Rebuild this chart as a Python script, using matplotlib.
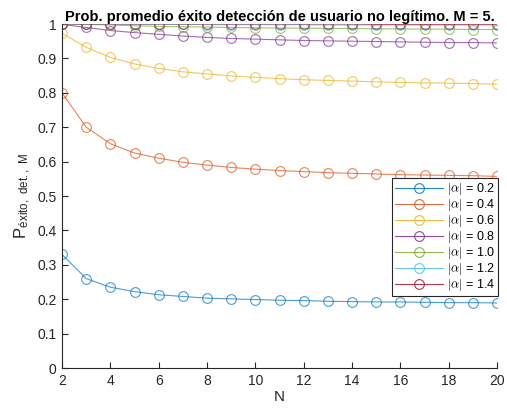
import numpy as np
import matplotlib.pyplot as plt

plt.rcParams['font.family'] = ['Liberation Sans', 'DejaVu Sans']
plt.rcParams['mathtext.fontset'] = 'cm'

N = np.arange(2, 21)
alphas = ['0.2', '0.4', '0.6', '0.8', '1.0', '1.2', '1.4']

p_02 = [0.330, 0.260, 0.235, 0.222, 0.213, 0.208, 0.203, 0.201, 0.199, 0.197,
        0.196, 0.194, 0.193, 0.192, 0.192, 0.191, 0.190, 0.190, 0.189]
p_04 = [0.800, 0.700, 0.652, 0.625, 0.610, 0.598, 0.590, 0.583, 0.578, 0.574,
        0.571, 0.568, 0.566, 0.564, 0.562, 0.561, 0.560, 0.559, 0.557]
p_06 = [0.973, 0.932, 0.903, 0.884, 0.871, 0.861, 0.855, 0.849, 0.845, 0.841,
        0.838, 0.836, 0.834, 0.832, 0.830, 0.829, 0.828, 0.827, 0.825]
p_08 = [0.999, 0.990, 0.981, 0.975, 0.970, 0.965, 0.961, 0.958, 0.956, 0.954,
        0.952, 0.951, 0.950, 0.949, 0.948, 0.947, 0.946, 0.946, 0.945]
p_10 = [1.000, 0.999, 0.997, 0.995, 0.993, 0.992, 0.991, 0.990, 0.989, 0.988,
        0.988, 0.987, 0.987, 0.986, 0.986, 0.985, 0.985, 0.984, 0.984]
p_12 = [1.000, 1.000, 1.000, 0.999, 0.999, 0.999, 0.998, 0.998, 0.998, 0.998,
        0.998, 0.997, 0.997, 0.997, 0.997, 0.997, 0.997, 0.997, 0.997]
p_14 = [1.000, 1.000, 1.000, 1.000, 1.000, 1.000, 1.000, 1.000, 1.000, 1.000,
        1.000, 1.000, 1.000, 0.999, 0.999, 0.999, 0.999, 0.999, 0.999]
series = [p_02, p_04, p_06, p_08, p_10, p_12, p_14]

colors = ['#0072BD', '#D95319', '#EDB120', '#7E2F8E', '#77AC30', '#4DBEEE', '#A2142F']

fig = plt.figure(figsize=(5.07, 4.11), dpi=100)
ax = fig.add_axes([0.1223, 0.1046, 0.858, 0.837])

for a, p, c in zip(alphas, series, colors):
    ax.plot(N, p, color=c, lw=0.8, alpha=0.7, marker='o', ms=7, mfc='none',
            mew=0.8, label=r'$|\alpha|$ = ' + a)

ax.set_xlim(2, 20)
ax.set_ylim(0, 1)
ax.set_xticks(np.arange(2, 21, 2))
ax.set_yticks(np.arange(0, 1.01, 0.1))
ax.set_yticklabels(['0', '0.1', '0.2', '0.3', '0.4', '0.5', '0.6', '0.7', '0.8', '0.9', '1'])
ax.spines['top'].set_visible(False)
ax.spines['right'].set_visible(False)
for s in ['left', 'bottom']:
    ax.spines[s].set_color('#262626')
    ax.spines[s].set_linewidth(0.8)
ax.tick_params(direction='in', length=4, width=0.8, colors='#262626', labelsize=10, pad=4)

ax.set_xlabel('N', fontsize=11, color='#262626', labelpad=2)
ax.set_ylabel(r'P$_{\mathregular{éxito,\ det.,\ M}}$', fontsize=12, color='#262626', labelpad=3)
ax.set_title('Prob. promedio éxito detección de usuario no legítimo. M = 5.',
             fontsize=10.5, fontweight='bold', pad=2)

leg = ax.legend(loc='upper right', bbox_to_anchor=(1.002, 0.552), borderaxespad=0,
                fontsize=9, fancybox=False, framealpha=1, edgecolor='#262626',
                handlelength=3.8, labelspacing=0.0, borderpad=0.25, handletextpad=0.3)
leg.get_frame().set_linewidth(0.8)
for h in leg.get_lines():
    h.set_alpha(0.85)

fig.savefig('out.png', dpi=100)
